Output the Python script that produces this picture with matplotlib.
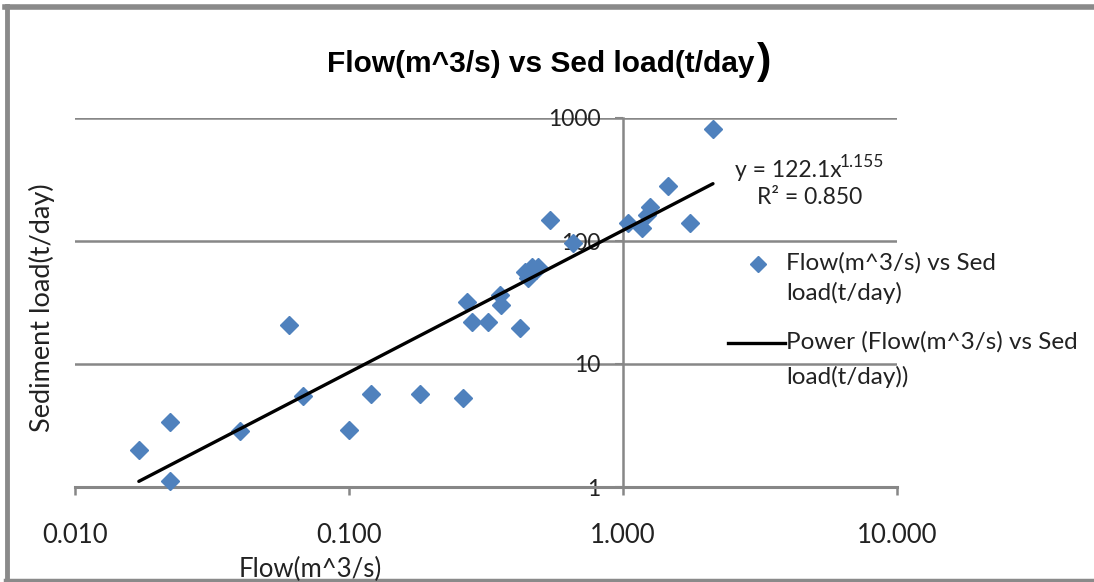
import matplotlib
matplotlib.use("Agg")
import matplotlib.pyplot as plt
import numpy as np
from matplotlib.lines import Line2D

# Data
flow = [0.0171, 0.0222, 0.0222, 0.040, 0.0604, 0.068, 0.100, 0.120, 0.182, 0.261,
        0.270, 0.280, 0.322, 0.356, 0.360, 0.420, 0.440, 0.450, 0.465, 0.480, 0.490,
        0.542, 0.657, 1.04, 1.17, 1.22, 1.25, 1.46, 1.76, 2.13]
sed = [2.0, 3.38, 1.12, 2.85, 20.7, 5.5, 2.9, 5.7, 5.7, 5.3,
       31.9, 22.0, 22.0, 36.4, 30.2, 19.6, 56.0, 50.0, 62.0, 58.0, 62.0,
       148.0, 96.0, 140.0, 128.0, 163.0, 189.0, 280.0, 140.0, 814.0]
coef_a = 122.1
coef_b = 1.155
x_ticks = [0.01, 0.1, 1, 10]
x_tick_labels = ["0.010", "0.100", "1.000", "10.000"]
y_ticks = [1, 10, 100, 1000]
y_tick_labels = ["1", "10", "100", "1000"]

FONT = ["Lato", "DejaVu Sans"]
TITLE_FONT = ["Liberation Sans Narrow", "Liberation Sans", "DejaVu Sans"]
plt.rcParams["font.family"] = FONT

W, H = 1094, 582
fig = plt.figure(figsize=(W / 100, H / 100), dpi=100)

def fx(px):
    return px / W

def fy(py):
    return 1 - py / H

ax = fig.add_axes([fx(75), fy(487), fx(897) - fx(75), fy(118) - fy(487)])
ax.set_xscale("log")
ax.set_yscale("log")
ax.set_xlim(0.01, 10)
ax.set_ylim(1, 1000)

grid_c = "#878787"
txt_c = "#222222"
for yv in y_ticks[1:]:
    ax.axhline(yv, color=grid_c, lw=1.8, zorder=1)

ax.spines["top"].set_visible(False)
ax.spines["right"].set_visible(False)
ax.spines["left"].set_position(("data", 1))
ax.spines["left"].set_color(grid_c)
ax.spines["left"].set_linewidth(1.8)
ax.spines["bottom"].set_color(grid_c)
ax.spines["bottom"].set_linewidth(2.2)

ax.set_xticks(x_ticks)
ax.set_xticklabels(x_tick_labels)
ax.set_yticks(y_ticks)
ax.set_yticklabels(y_tick_labels)
ax.minorticks_off()
ax.tick_params(axis="x", direction="out", length=6, width=1.8, color=grid_c,
               pad=20, labelsize=18.5, labelcolor=txt_c)
ax.tick_params(axis="y", direction="out", length=6, width=1.5, color=grid_c,
               pad=10, labelsize=16.5, labelcolor=txt_c)

ax.plot(flow, sed, linestyle="none", marker="D", ms=9, color="#4F81BD",
        mec="#4F81BD", zorder=3, clip_on=False)

xs = np.logspace(np.log10(min(flow)), np.log10(max(flow)), 100)
ax.plot(xs, coef_a * xs ** coef_b, color="black", lw=2.4, zorder=4,
        solid_capstyle="round")

# Titles/labels
fig.text(fx(755), fy(64), "Flow(m^3/s) vs Sed load(t/day", ha="right", va="center",
         fontsize=21.5, fontweight="bold", family=TITLE_FONT)
fig.text(fx(757), fy(62), ")", ha="left", va="center", fontsize=31, fontweight="bold",
         family=TITLE_FONT)
fig.text(fx(310), fy(569), "Flow(m^3/s)", ha="center", va="center", fontsize=18.5,
         color=txt_c)
fig.text(fx(42), fy(308), "Sediment load(t/day)", ha="center", va="center",
         rotation=90, fontsize=19.5, color=txt_c)

# equation
fig.text(fx(735), fy(170), "y = 122.1x", ha="left", va="center", fontsize=16.5,
         color=txt_c)
fig.text(fx(840), fy(162), "1.155", ha="left", va="center", fontsize=12.5,
         color=txt_c)
fig.text(fx(757), fy(198), "R² = 0.850", ha="left", va="center", fontsize=16.5,
         color=txt_c)

# legend (manual)
fig.lines.append(Line2D([fx(758)], [fy(264)], marker="D", ms=8, color="#4F81BD",
                        transform=fig.transFigure, linestyle="none"))
fig.text(fx(786), fy(263), "Flow(m^3/s) vs Sed", ha="left", va="center",
         fontsize=17.5, color=txt_c)
fig.text(fx(786), fy(293), "load(t/day)", ha="left", va="center",
         fontsize=17.5, color=txt_c)
fig.lines.append(Line2D([fx(728), fx(785)], [fy(343), fy(343)], color="black", lw=2.4,
                        transform=fig.transFigure))
fig.text(fx(786), fy(342), "Power (Flow(m^3/s) vs Sed", ha="left", va="center",
         fontsize=17.5, color=txt_c)
fig.text(fx(786), fy(377), "load(t/day))", ha="left", va="center",
         fontsize=17.5, color=txt_c)

# outer border (left, top, bottom)
bc = "#8a8a8a"
fig.lines.append(Line2D([fx(7), fx(7)], [fy(6), fy(580)], color=bc, lw=3.5,
                        transform=fig.transFigure))
fig.lines.append(Line2D([fx(5), fx(1094)], [fy(6.5), fy(6.5)], color=bc, lw=4,
                        transform=fig.transFigure))
fig.lines.append(Line2D([fx(5), fx(1094)], [fy(580), fy(580)], color=bc, lw=2.5,
                        transform=fig.transFigure))

fig.savefig("out.png", dpi=100)
